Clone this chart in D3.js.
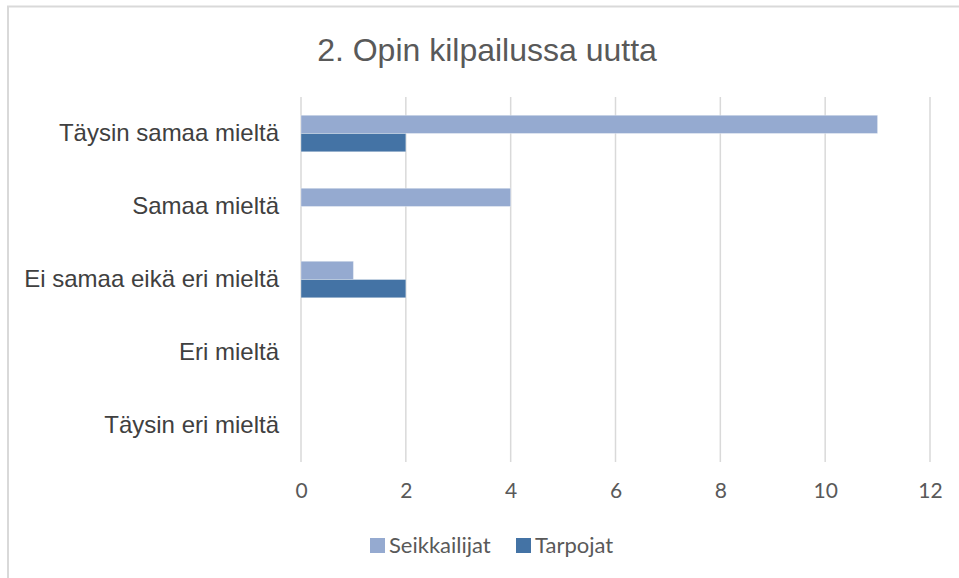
<!DOCTYPE html>
<html>
<head>
<meta charset="utf-8">
<script src="https://cdn.jsdelivr.net/npm/d3@7"></script>
<style>
  html, body { margin: 0; padding: 0; background: #fff; }
  svg { display: block; }
</style>
</head>
<body>
<svg id="chart" width="959" height="578"></svg>
<script>
const title = "2. Opin kilpailussa uutta";
const categories = ["Täysin samaa mieltä", "Samaa mieltä", "Ei samaa eikä eri mieltä", "Eri mieltä", "Täysin eri mieltä"];
const seriesNames = ["Seikkailijat", "Tarpojat"];
const seikkailijat = [11, 4, 1, 0, 0];
const tarpojat = [2, 0, 2, 0, 0];
const tickValues = [0, 2, 4, 6, 8, 10, 12];
const colors = ["#95aad0", "#4473a5"];

const svg = d3.select("#chart");

// outer frame (extends past right/bottom edges)
svg.append("rect")
  .attr("x", 8).attr("y", 6.5)
  .attr("width", 1000).attr("height", 700)
  .attr("fill", "#fff")
  .attr("stroke", "#d9d9d9").attr("stroke-width", 2);

const plot = { left: 301, right: 930, top: 97, bottom: 462 };

const x = d3.scaleLinear().domain([0, 12]).range([plot.left, plot.right]);
const y = d3.scaleBand().domain(categories).range([plot.top, plot.bottom]).paddingInner(0.5).paddingOuter(0.25);
const ySub = d3.scaleBand().domain(seriesNames).range([0, y.bandwidth()]);

// gridlines
svg.append("g").selectAll("line")
  .data(tickValues)
  .join("line")
  .attr("x1", d => x(d)).attr("x2", d => x(d))
  .attr("y1", plot.top).attr("y2", plot.bottom)
  .attr("stroke", "#d9d9d9").attr("stroke-width", 1.5);

// bars
const data = categories.map((c, i) => ({ cat: c, vals: [seikkailijat[i], tarpojat[i]] }));
const groups = svg.append("g").selectAll("g")
  .data(data)
  .join("g")
  .attr("transform", d => `translate(0,${y(d.cat)})`);

groups.selectAll("rect")
  .data(d => d.vals.map((v, j) => ({ v, name: seriesNames[j], color: colors[j] })))
  .join("rect")
  .attr("x", x(0))
  .attr("y", d => ySub(d.name))
  .attr("width", d => x(d.v) - x(0))
  .attr("height", ySub.bandwidth())
  .attr("fill", d => d.color)
  .attr("stroke", d => d.v > 0 ? "rgba(255,255,255,0.35)" : "none")
  .attr("stroke-width", 1);

// category labels
const yAxis = d3.axisLeft(y).tickSize(0).tickPadding(22);
const yg = svg.append("g").attr("transform", `translate(${plot.left},0)`).call(yAxis);
yg.select(".domain").remove();
yg.selectAll("text")
  .attr("font-family", "'Liberation Sans', Arial, sans-serif")
  .attr("font-size", 24)
  .attr("fill", "#404040");

// x tick labels
const xAxis = d3.axisBottom(x).tickValues(tickValues).tickSize(0).tickPadding(21);
const xg = svg.append("g").attr("transform", `translate(0,${plot.bottom})`).call(xAxis);
xg.select(".domain").remove();
xg.selectAll("text")
  .attr("font-family", "Lato, 'Open Sans', sans-serif")
  .attr("font-size", 21)
  .attr("fill", "#595959");

// title
svg.append("text")
  .attr("x", 487).attr("y", 61)
  .attr("text-anchor", "middle")
  .attr("font-family", "'Liberation Sans', Arial, sans-serif")
  .attr("font-size", 32)
  .attr("fill", "#595959")
  .text(title);

// legend
const legendX = [370, 516];
const leg = svg.append("g").selectAll("g")
  .data(seriesNames)
  .join("g")
  .attr("transform", (d, i) => `translate(${legendX[i]},538)`);
leg.append("rect")
  .attr("width", 15).attr("height", 15)
  .attr("fill", (d, i) => colors[i]);
leg.append("text")
  .attr("x", 19).attr("y", 15)
  .attr("font-family", "Lato, 'Open Sans', sans-serif")
  .attr("font-size", 22)
  .attr("fill", "#595959")
  .text(d => d);
</script>
</body>
</html>
